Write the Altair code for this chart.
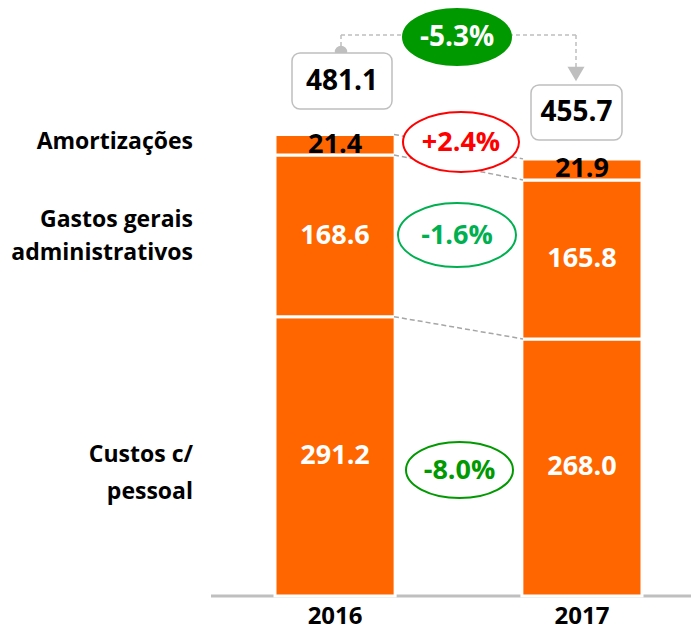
import altair as alt
import pandas as pd

# ---------------- data ----------------
years = ["2016", "2017"]
categories = ["Custos c/ pessoal", "Gastos gerais administrativos", "Amortizações"]
custos_pessoal = [291.2, 268.0]
gastos_gerais = [168.6, 165.8]
amortizacoes = [21.4, 21.9]
totals = ["481.1", "455.7"]
segment_changes = ["-8.0%", "-1.6%", "+2.4%"]
total_change = "-5.3%"

FONT = "Open Sans"
ORANGE = "#FF6600"
GRAY = "#A6A6A6"
LIGHT = "#BFBFBF"

series = [custos_pessoal, gastos_gerais, amortizacoes]
rows = []
for i, yr in enumerate(years):
    base = 0.0
    for j, cat in enumerate(categories):
        v = series[j][i]
        rows.append(dict(year=yr, category=cat, order=j, value=v,
                         start=base, end=base + v, mid=base + v / 2,
                         label=f"{v:.1f}"))
        base += v
df = pd.DataFrame(rows)

# boundaries for connectors (top of each stacked level)
conn = []
for j in range(len(categories)):
    a = sum(s[0] for s in series[: j + 1])
    b = sum(s[1] for s in series[: j + 1])
    conn.append(dict(y0=a, y1=b))
conn_df = pd.DataFrame(conn)

W, H = 480, 588
Y_MAX = 613
BAR_W = 118
R0, R1 = 64, 431
pin = 1 - BAR_W * 2 / (R1 - R0 + BAR_W)  # paddingInner so that bandwidth = BAR_W

yscale = alt.Scale(domain=[0, Y_MAX])
xscale = alt.Scale(domain=years, range=[R0, R1], paddingInner=pin, paddingOuter=0)
xenc = alt.X("year:N", scale=xscale,
             axis=alt.Axis(title=None, domain=False, ticks=False, tickSize=0,
                           labelFont=FONT, labelFontWeight="bold", labelFontSize=24,
                           labelColor="black", labelPadding=8, labelAngle=0,
                           grid=False))

bars = alt.Chart(df).mark_bar(color=ORANGE, stroke="white", strokeWidth=3).encode(
    x=xenc,
    y=alt.Y("start:Q", scale=yscale, axis=None),
    y2="end:Q",
    order="order:Q",
)

labels = alt.Chart(df).mark_text(font=FONT, fontWeight="bold", fontSize=27,
                                 baseline="middle").encode(
    x=xenc,
    y=alt.Y("mid:Q", scale=yscale, axis=None),
    text="label:N",
    color=alt.condition(alt.datum.category == "Amortizações",
                        alt.value("black"), alt.value("white")),
)

bar_right = R0 + BAR_W
bar_left2 = R1 - BAR_W
connectors = alt.Chart(conn_df).mark_rule(color=GRAY, strokeWidth=1.5,
                                          strokeDash=[5, 3]).encode(
    x=alt.value(bar_right + 1),
    x2=alt.value(bar_left2 - 1),
    y=alt.Y("y0:Q", scale=yscale, axis=None),
    y2="y1:Q",
)

baseline = alt.Chart(pd.DataFrame({"a": [0]})).mark_rule(color=LIGHT, strokeWidth=3).encode(
    x=alt.value(0), x2=alt.value(W), y=alt.value(H)
)


def one(t):
    return alt.Chart(pd.DataFrame({"t": [t]}))


def txt(t, x, y, size, color="black", align="center"):
    return one(t).mark_text(font=FONT, fontWeight="bold", fontSize=size, color=color,
                            align=align, baseline="middle").encode(
        x=alt.value(x), y=alt.value(y), text="t:N")


def ellipse(x, y, w, h, stroke, fill="white"):
    a = h / w
    k = 0.5523
    path = (f"M -1 0 C -1 {-k*a:.4f} {-k:.4f} {-a:.4f} 0 {-a:.4f} "
            f"C {k:.4f} {-a:.4f} 1 {-k*a:.4f} 1 0 "
            f"C 1 {k*a:.4f} {k:.4f} {a:.4f} 0 {a:.4f} "
            f"C {-k:.4f} {a:.4f} -1 {k*a:.4f} -1 0 Z")
    return one("e").mark_point(shape=path, size=w * w, fill=fill, stroke=stroke,
                               strokeWidth=2, opacity=1, fillOpacity=1).encode(
        x=alt.value(x), y=alt.value(y))


def box(x0, y0, x1, y1):
    return one("b").mark_rect(fill="white", stroke=LIGHT, strokeWidth=1.5,
                              cornerRadius=8).encode(
        x=alt.value(x0), x2=alt.value(x1), y=alt.value(y0), y2=alt.value(y1))


def dash(x0, y0, x1, y1):
    return one("d").mark_rule(color=LIGHT, strokeWidth=1.5, strokeDash=[4, 3]).encode(
        x=alt.value(x0), x2=alt.value(x1), y=alt.value(y0), y2=alt.value(y1))


# top total-change connector
top = [
    dash(130, 27, 365, 27),
    dash(130, 27, 130, 40),
    dash(365, 27, 365, 60),
    one("c").mark_point(shape="circle", size=154, filled=True, color=LIGHT, opacity=1).encode(
        x=alt.value(130), y=alt.value(44)),
    one("a").mark_point(shape="triangle-down", size=289, filled=True, color=LIGHT, opacity=1).encode(
        x=alt.value(365), y=alt.value(66)),
    ellipse(246, 29, 108, 56, "#009900", fill="#009900"),
    txt(total_change, 246, 30, 28, "white"),
]

totals_layers = [
    box(81, 45, 181, 101),
    txt(totals[0], 131, 74, 28),
    box(320, 77, 411, 132),
    txt(totals[1], 365.5, 105, 28),
]

change_layers = [
    ellipse(250, 134, 116, 60, "#FF0000"),
    txt(segment_changes[2], 250, 135, 27, "#FF0000"),
    ellipse(246, 227, 118, 64, "#00B050"),
    txt(segment_changes[1], 246, 228, 27, "#00B050"),
    ellipse(248.5, 462, 107, 56, "#009900"),
    txt(segment_changes[0], 248.5, 463, 27, "#009900"),
]

cat_layers = [
    txt("Amortizações", -18, 134, 23, align="right"),
    txt("Gastos gerais", -18, 212, 23, align="right"),
    txt("administrativos", -18, 245, 23, align="right"),
    txt("Custos c/", -18, 447, 23, align="right"),
    txt("pessoal", -18, 484, 23, align="right"),
]

chart = alt.layer(
    baseline, bars, connectors, labels,
    *top, *totals_layers, *change_layers, *cat_layers
).properties(
    width=W, height=H,
    autosize=alt.AutoSizeParams(type="none"),
    padding={"left": 203, "top": 0, "right": 0, "bottom": 33},
).configure_view(stroke=None)

chart.save("out.html", embed_options={"renderer": "svg", "actions": False})
